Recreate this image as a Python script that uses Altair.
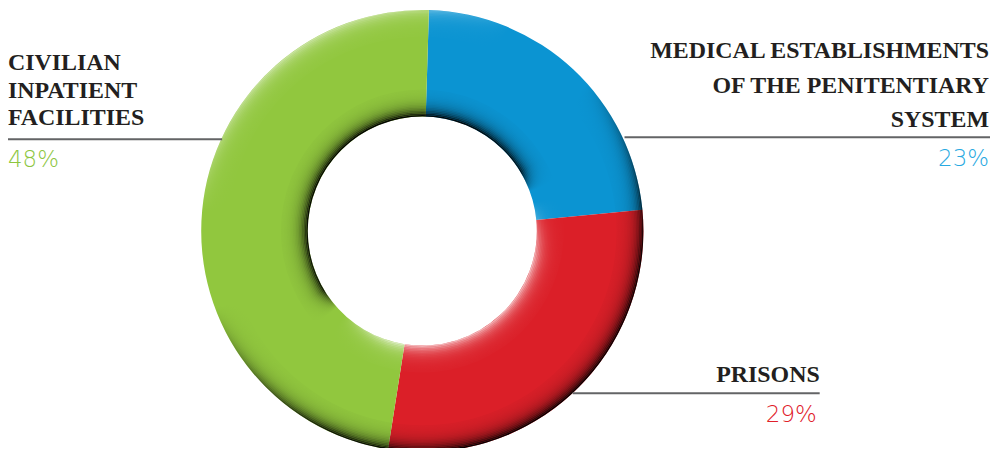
import math
import altair as alt
import pandas as pd

# ---- data ----
categories = [
    "Medical establishments of the penitentiary system",
    "Prisons",
    "Civilian inpatient facilities",
]
values = [23, 29, 48]
slice_colors = ["#0b94d2", "#db1f28", "#91c73e"]
label_colors = ["#29a9e1", "#e0202a", "#8dc63f"]
label_lines = [
    ["MEDICAL ESTABLISHMENTS", "OF THE PENITENTIARY", "SYSTEM"],
    ["PRISONS"],
    ["CIVILIAN", "INPATIENT", "FACILITIES"],
]
pct_labels = ["23%", "29%", "48%"]

TAU = 2 * math.pi
START = 0.03
CX, CY = 416, 223
R_OUT, R_IN = 222, 115
TEXT_DARK = "#231f20"
LINE_GRAY = "#636466"

df = pd.DataFrame({"category": categories, "value": values, "order": [0, 1, 2]})
one = pd.DataFrame({"k": [0]})

donut = alt.Chart(df).mark_arc(radius=R_OUT, radius2=R_IN, strokeWidth=0).encode(
    theta=alt.Theta("value:Q", stack=True, scale=alt.Scale(range=[START, START + TAU])),
    color=alt.Color("category:N", scale=alt.Scale(domain=categories, range=slice_colors), legend=None),
    order=alt.Order("order:Q"),
    x=alt.value(CX),
    y=alt.value(CY),
)


def ring(r1, r2, op, stops, x1, y1, x2, y2):
    grad = alt.LinearGradient(
        gradient="linear",
        stops=[alt.GradientStop(color=c, offset=o) for o, c in stops],
        x1=x1, y1=y1, x2=x2, y2=y2,
    )
    return alt.Chart(one).mark_arc(
        radius=r1, radius2=r2, theta=0, theta2=TAU, opacity=op, fill=grad, strokeWidth=0
    ).encode(x=alt.value(CX), y=alt.value(CY))


outer_stops = [
    (0.0, "rgba(255,255,255,0.7)"),
    (0.25, "rgba(255,255,255,0)"),
    (0.42, "rgba(0,0,0,0)"),
    (0.75, "rgba(0,0,0,0.9)"),
    (1.0, "rgba(0,0,0,1)"),
]
inner_stops = [
    (0.0, "rgba(0,0,0,1)"),
    (0.5, "rgba(0,0,0,0.85)"),
    (0.58, "rgba(0,0,0,0)"),
    (0.62, "rgba(255,255,255,0)"),
    (0.8, "rgba(255,255,255,0.65)"),
    (1.0, "rgba(255,255,255,0.65)"),
]

rings = []
step = 1.5
n = 18
for i in range(n):
    r1 = R_OUT - i * step
    r2 = r1 - step
    op = math.exp(-(i * step) / 7.0)
    rings.append(ring(r1, r2, op, outer_stops, 0.2, 0, 0.8, 1))
for i in range(n):
    r2 = R_IN + i * step
    r1 = r2 + step
    op = math.exp(-(i * step) / 6.5)
    rings.append(ring(r1, r2, op, inner_stops, 0.2, 0, 0.8, 1))

# ---- labels ----
def text_block(lines, x, y, align, line_height):
    return alt.Chart(one).mark_text(
        text="\n".join(lines), lineBreak="\n", lineHeight=line_height,
        font="Liberation Serif", fontWeight="bold", fontSize=24, color=TEXT_DARK,
        align=align, baseline="alphabetic",
    ).encode(x=alt.value(x), y=alt.value(y))


def pct(txt, color, x, y, align):
    return alt.Chart(one).mark_text(
        text=txt, font="DejaVu Sans", fontWeight=200, fontSize=23, color=color,
        align=align, baseline="alphabetic",
    ).encode(x=alt.value(x), y=alt.value(y))


def hline(x1, x2, y):
    return alt.Chart(one).mark_rule(color=LINE_GRAY, strokeWidth=2).encode(
        x=alt.value(x1), x2=alt.value(x2), y=alt.value(y)
    )


labels = [
    text_block(label_lines[2], 0, 61, "left", 28),
    hline(0, 215, 131),
    pct(pct_labels[2], label_colors[2], 0, 159, "left"),
    text_block(label_lines[0], 985, 49, "right", 35),
    hline(619, 990, 129),
    pct(pct_labels[0], label_colors[0], 985, 158, "right"),
    text_block(label_lines[1], 815, 375, "right", 28),
    hline(567, 815, 386),
    pct(pct_labels[1], label_colors[1], 812, 415, "right"),
]

chart = alt.layer(donut, *rings, *labels).properties(
    width=986, height=440, padding=0, autosize=alt.AutoSizeParams(type="none")
).configure_view(strokeWidth=0)

chart.save("out.html", embed_options={"renderer": "svg", "actions": False})
